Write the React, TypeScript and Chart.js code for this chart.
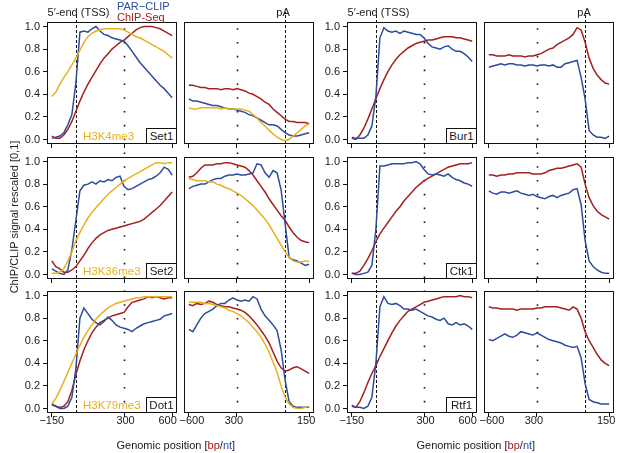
import React, { useEffect, useRef } from "react";
import { Chart, registerables } from "chart.js";

Chart.register(...registerables);

// ---------- data ----------
const TSS_X = [-150, -125, -100, -75, -50, -25, 0, 25, 50, 75, 100, 125, 150, 175, 200, 225, 250, 275, 300, 325, 350, 375, 400, 425, 450, 475, 500, 525, 550, 575, 600];
const PA_X = [-600, -575, -550, -525, -500, -475, -450, -425, -400, -375, -350, -325, -300, -275, -250, -225, -200, -175, -150, -125, -100, -75, -50, -25, 0, 25, 50, 75, 100, 125, 150];

const TSS_TICKS = [-150, 300, 600];
const TSS_TICK_LABELS = ["\u2212150", "300", "600"];
const PA_TICKS = [-600, -300, 150];
const PA_TICK_LABELS = ["\u2212600", "300", "150"];
// label nudges (in spaces) so neighbouring panels' labels do not collide, as in the original
const TSS_TICK_PAD = [0, 1, -3];
const PA_TICK_PAD = [2, -2, -2];
const Y_TICKS = [0, 0.2, 0.4, 0.6, 0.8, 1.0];
const Y_TICK_LABELS = ["0.0", "0.2", "0.4", "0.6", "0.8", "1.0"];

const FACTORS_LEFT = ["Set1", "Set2", "Dot1"];
const FACTORS_RIGHT = ["Bur1", "Ctk1", "Rtf1"];
const MARKS = ["H3K4me3", "H3K36me3", "H3K79me3"];

// Set1 / H3K4me3
const SET1_TSS_PAR = [0.01, 0.02, 0.03, 0.06, 0.13, 0.22, 0.50, 0.95, 0.96, 0.95, 0.98, 1.00, 0.96, 0.93, 0.92, 0.90, 0.89, 0.88, 0.87, 0.83, 0.78, 0.73, 0.68, 0.64, 0.60, 0.56, 0.52, 0.48, 0.45, 0.41, 0.37];
const SET1_TSS_CHIP = [0.03, 0.01, 0.01, 0.04, 0.09, 0.16, 0.25, 0.34, 0.42, 0.49, 0.55, 0.61, 0.67, 0.72, 0.76, 0.80, 0.83, 0.86, 0.88, 0.91, 0.94, 0.97, 0.99, 1.00, 1.00, 1.00, 0.99, 0.98, 0.96, 0.94, 0.92];
const SET1_TSS_MARK = [0.38, 0.42, 0.49, 0.55, 0.60, 0.66, 0.72, 0.79, 0.86, 0.91, 0.94, 0.96, 0.97, 0.98, 0.98, 0.98, 0.98, 0.98, 0.97, 0.95, 0.93, 0.91, 0.90, 0.88, 0.86, 0.84, 0.82, 0.80, 0.78, 0.75, 0.72];
const SET1_PA_PAR = [0.36, 0.34, 0.34, 0.33, 0.32, 0.31, 0.30, 0.30, 0.29, 0.28, 0.27, 0.27, 0.26, 0.25, 0.24, 0.22, 0.21, 0.19, 0.17, 0.15, 0.13, 0.13, 0.12, 0.09, 0.06, 0.04, 0.03, 0.03, 0.04, 0.05, 0.06];
const SET1_PA_CHIP = [0.48, 0.48, 0.47, 0.46, 0.46, 0.45, 0.45, 0.45, 0.44, 0.45, 0.45, 0.44, 0.45, 0.44, 0.43, 0.41, 0.40, 0.38, 0.36, 0.33, 0.31, 0.27, 0.24, 0.21, 0.18, 0.16, 0.16, 0.15, 0.15, 0.15, 0.14];
const SET1_PA_MARK = [0.28, 0.27, 0.27, 0.28, 0.28, 0.28, 0.28, 0.28, 0.27, 0.28, 0.27, 0.27, 0.27, 0.27, 0.26, 0.25, 0.22, 0.19, 0.15, 0.12, 0.08, 0.05, 0.02, 0.00, -0.01, 0.00, 0.03, 0.06, 0.09, 0.12, 0.14];

// Set2 / H3K36me3
const SET2_TSS_PAR = [0.05, 0.03, 0.01, 0.00, 0.04, 0.22, 0.48, 0.74, 0.79, 0.80, 0.82, 0.80, 0.83, 0.82, 0.84, 0.83, 0.86, 0.87, 0.78, 0.75, 0.76, 0.78, 0.80, 0.82, 0.84, 0.85, 0.87, 0.90, 0.95, 0.93, 0.88];
const SET2_TSS_CHIP = [0.12, 0.07, 0.05, 0.02, 0.02, 0.04, 0.07, 0.12, 0.17, 0.23, 0.28, 0.32, 0.35, 0.37, 0.39, 0.40, 0.41, 0.42, 0.43, 0.44, 0.45, 0.46, 0.47, 0.49, 0.52, 0.55, 0.58, 0.61, 0.65, 0.69, 0.73];
const SET2_TSS_MARK = [0.01, 0.01, 0.02, 0.05, 0.12, 0.20, 0.30, 0.37, 0.44, 0.50, 0.55, 0.59, 0.63, 0.67, 0.71, 0.74, 0.77, 0.80, 0.83, 0.85, 0.87, 0.89, 0.91, 0.93, 0.95, 0.97, 0.99, 0.99, 0.98, 0.99, 0.99];
const SET2_PA_PAR = [0.76, 0.78, 0.79, 0.80, 0.80, 0.82, 0.84, 0.85, 0.85, 0.87, 0.88, 0.88, 0.89, 0.88, 0.88, 0.89, 0.90, 0.98, 0.97, 0.90, 0.86, 0.92, 0.90, 0.75, 0.45, 0.15, 0.13, 0.12, 0.10, 0.08, 0.09];
const SET2_PA_CHIP = [0.86, 0.87, 0.90, 0.94, 0.97, 0.97, 0.97, 0.98, 0.98, 0.99, 0.99, 0.98, 0.97, 0.96, 0.95, 0.92, 0.88, 0.83, 0.78, 0.73, 0.67, 0.62, 0.57, 0.52, 0.48, 0.42, 0.37, 0.33, 0.30, 0.29, 0.28];
const SET2_PA_MARK = [0.85, 0.84, 0.83, 0.83, 0.83, 0.82, 0.82, 0.80, 0.79, 0.77, 0.76, 0.74, 0.72, 0.70, 0.67, 0.64, 0.61, 0.57, 0.53, 0.49, 0.44, 0.38, 0.32, 0.26, 0.20, 0.15, 0.12, 0.11, 0.11, 0.12, 0.12];

// Dot1 / H3K79me3
const DOT1_TSS_PAR = [0.03, 0.02, 0.00, 0.00, 0.02, 0.10, 0.35, 0.80, 0.89, 0.84, 0.79, 0.76, 0.74, 0.77, 0.81, 0.78, 0.74, 0.72, 0.71, 0.70, 0.68, 0.71, 0.73, 0.75, 0.76, 0.77, 0.78, 0.79, 0.82, 0.83, 0.84];
const DOT1_TSS_CHIP = [0.04, 0.02, 0.01, 0.02, 0.06, 0.16, 0.30, 0.42, 0.52, 0.60, 0.67, 0.72, 0.76, 0.78, 0.80, 0.82, 0.83, 0.84, 0.85, 0.90, 0.94, 0.95, 0.96, 0.97, 0.99, 0.98, 0.99, 0.98, 0.97, 0.98, 0.98];
const DOT1_TSS_MARK = [0.04, 0.09, 0.16, 0.24, 0.32, 0.40, 0.48, 0.56, 0.63, 0.69, 0.74, 0.79, 0.83, 0.86, 0.89, 0.91, 0.93, 0.94, 0.95, 0.96, 0.97, 0.98, 0.98, 0.99, 0.99, 0.99, 0.99, 0.99, 0.99, 0.99, 0.99];
const DOT1_PA_PAR = [0.70, 0.68, 0.74, 0.80, 0.84, 0.86, 0.88, 0.91, 0.93, 0.93, 0.96, 0.98, 0.96, 0.95, 0.96, 0.95, 0.99, 0.97, 0.88, 0.82, 0.78, 0.74, 0.69, 0.52, 0.25, 0.06, 0.02, 0.01, 0.01, 0.01, 0.01];
const DOT1_PA_CHIP = [0.92, 0.91, 0.93, 0.92, 0.93, 0.95, 0.94, 0.92, 0.91, 0.90, 0.90, 0.89, 0.88, 0.87, 0.85, 0.82, 0.78, 0.74, 0.69, 0.64, 0.58, 0.50, 0.42, 0.36, 0.33, 0.34, 0.36, 0.37, 0.35, 0.33, 0.31];
const DOT1_PA_MARK = [0.94, 0.94, 0.94, 0.94, 0.93, 0.93, 0.92, 0.91, 0.90, 0.89, 0.87, 0.86, 0.84, 0.82, 0.79, 0.76, 0.72, 0.68, 0.63, 0.57, 0.50, 0.41, 0.32, 0.20, 0.10, 0.04, 0.01, 0.00, 0.00, 0.01, 0.02];

// Bur1
const BUR1_TSS_PAR = [0.02, 0.01, 0.01, 0.01, 0.04, 0.12, 0.38, 0.90, 0.99, 0.96, 0.95, 0.96, 0.94, 0.96, 0.95, 0.94, 0.93, 0.93, 0.90, 0.85, 0.82, 0.81, 0.80, 0.82, 0.83, 0.80, 0.78, 0.78, 0.76, 0.73, 0.69];
const BUR1_TSS_CHIP = [0.01, 0.00, 0.04, 0.10, 0.18, 0.27, 0.36, 0.45, 0.53, 0.60, 0.66, 0.71, 0.75, 0.78, 0.81, 0.83, 0.85, 0.86, 0.87, 0.88, 0.88, 0.89, 0.90, 0.91, 0.91, 0.91, 0.90, 0.90, 0.89, 0.88, 0.87];
const BUR1_PA_PAR = [0.64, 0.65, 0.66, 0.67, 0.66, 0.67, 0.67, 0.66, 0.66, 0.65, 0.66, 0.66, 0.65, 0.66, 0.66, 0.65, 0.66, 0.64, 0.64, 0.67, 0.68, 0.69, 0.70, 0.55, 0.36, 0.08, 0.04, 0.02, 0.02, 0.01, 0.03];
const BUR1_PA_CHIP = [0.75, 0.75, 0.74, 0.74, 0.74, 0.75, 0.74, 0.74, 0.74, 0.73, 0.74, 0.74, 0.75, 0.76, 0.78, 0.80, 0.81, 0.84, 0.86, 0.88, 0.90, 0.93, 0.99, 0.97, 0.86, 0.72, 0.63, 0.57, 0.53, 0.50, 0.49];

// Ctk1
const CTK1_TSS_PAR = [0.01, 0.00, 0.00, 0.01, 0.02, 0.08, 0.40, 0.96, 0.96, 0.97, 0.98, 0.98, 0.98, 0.98, 0.99, 0.99, 1.00, 0.98, 0.93, 0.89, 0.88, 0.89, 0.88, 0.87, 0.89, 0.86, 0.84, 0.83, 0.81, 0.80, 0.78];
const CTK1_TSS_CHIP = [0.01, 0.01, 0.03, 0.08, 0.14, 0.21, 0.29, 0.36, 0.41, 0.46, 0.51, 0.56, 0.60, 0.65, 0.69, 0.73, 0.77, 0.80, 0.83, 0.85, 0.87, 0.89, 0.91, 0.93, 0.95, 0.96, 0.97, 0.98, 0.98, 0.98, 0.99];
const CTK1_PA_PAR = [0.74, 0.72, 0.71, 0.73, 0.73, 0.72, 0.73, 0.74, 0.72, 0.71, 0.70, 0.71, 0.69, 0.68, 0.67, 0.69, 0.70, 0.68, 0.70, 0.71, 0.72, 0.75, 0.76, 0.62, 0.30, 0.12, 0.07, 0.04, 0.02, 0.01, 0.01];
const CTK1_PA_CHIP = [0.88, 0.88, 0.87, 0.88, 0.88, 0.89, 0.89, 0.90, 0.90, 0.90, 0.90, 0.89, 0.89, 0.89, 0.90, 0.92, 0.93, 0.94, 0.94, 0.95, 0.96, 0.97, 0.98, 0.95, 0.80, 0.68, 0.61, 0.56, 0.53, 0.51, 0.49];

// Rtf1
const RTF1_TSS_PAR = [0.03, 0.01, 0.01, 0.00, 0.02, 0.10, 0.40, 0.90, 0.99, 0.93, 0.92, 0.93, 0.91, 0.88, 0.88, 0.87, 0.88, 0.86, 0.84, 0.82, 0.81, 0.79, 0.78, 0.80, 0.75, 0.74, 0.76, 0.74, 0.75, 0.73, 0.70];
const RTF1_TSS_CHIP = [0.02, 0.01, 0.06, 0.14, 0.23, 0.31, 0.38, 0.46, 0.53, 0.60, 0.67, 0.73, 0.78, 0.82, 0.86, 0.88, 0.90, 0.92, 0.94, 0.95, 0.96, 0.97, 0.98, 0.99, 0.99, 0.99, 0.99, 1.00, 0.99, 0.99, 0.98];
const RTF1_PA_PAR = [0.61, 0.60, 0.62, 0.64, 0.66, 0.64, 0.63, 0.65, 0.68, 0.67, 0.66, 0.65, 0.67, 0.65, 0.63, 0.61, 0.60, 0.59, 0.58, 0.56, 0.55, 0.54, 0.55, 0.45, 0.22, 0.08, 0.06, 0.05, 0.04, 0.04, 0.04];
const RTF1_PA_CHIP = [0.90, 0.89, 0.89, 0.88, 0.88, 0.88, 0.88, 0.87, 0.88, 0.88, 0.88, 0.88, 0.89, 0.89, 0.90, 0.90, 0.90, 0.90, 0.89, 0.88, 0.87, 0.90, 0.88, 0.80, 0.68, 0.60, 0.54, 0.48, 0.43, 0.40, 0.38];

// ---------- styling ----------
const BLUE = "#2c4c9c";
const RED = "#a3201d";
const ORANGE = "#e9b01e";
const INK = "#1a1a1a";
const FONT = '"Liberation Sans", Arial, Helvetica, sans-serif';

const P = 14; // canvas padding
const YW = 34; // y axis width
const XH = 18; // x axis height
const COL_LEFT = [47, 184, 347, 484];
const ROW_TOP = [22, 157, 291];
const BOX_W = 130;
const BOX_H = 122;

type Series = { values: number[]; color: string };
type PanelDef = { row: number; col: number; region: "tss" | "pa"; series: Series[] };

const LEFT_SETS = [
  { tss: [SET1_TSS_MARK, SET1_TSS_PAR, SET1_TSS_CHIP], pa: [SET1_PA_MARK, SET1_PA_PAR, SET1_PA_CHIP] },
  { tss: [SET2_TSS_MARK, SET2_TSS_PAR, SET2_TSS_CHIP], pa: [SET2_PA_MARK, SET2_PA_PAR, SET2_PA_CHIP] },
  { tss: [DOT1_TSS_MARK, DOT1_TSS_PAR, DOT1_TSS_CHIP], pa: [DOT1_PA_MARK, DOT1_PA_PAR, DOT1_PA_CHIP] },
];
const RIGHT_SETS = [
  { tss: [BUR1_TSS_PAR, BUR1_TSS_CHIP], pa: [BUR1_PA_PAR, BUR1_PA_CHIP] },
  { tss: [CTK1_TSS_PAR, CTK1_TSS_CHIP], pa: [CTK1_PA_PAR, CTK1_PA_CHIP] },
  { tss: [RTF1_TSS_PAR, RTF1_TSS_CHIP], pa: [RTF1_PA_PAR, RTF1_PA_CHIP] },
];

const PANELS: PanelDef[] = [];
for (let r = 0; r < 3; r++) {
  const L = LEFT_SETS[r];
  const R = RIGHT_SETS[r];
  PANELS.push({ row: r, col: 0, region: "tss", series: [{ values: L.tss[0], color: ORANGE }, { values: L.tss[1], color: BLUE }, { values: L.tss[2], color: RED }] });
  PANELS.push({ row: r, col: 1, region: "pa", series: [{ values: L.pa[0], color: ORANGE }, { values: L.pa[1], color: BLUE }, { values: L.pa[2], color: RED }] });
  PANELS.push({ row: r, col: 2, region: "tss", series: [{ values: R.tss[0], color: BLUE }, { values: R.tss[1], color: RED }] });
  PANELS.push({ row: r, col: 3, region: "pa", series: [{ values: R.pa[0], color: BLUE }, { values: R.pa[1], color: RED }] });
}

function padLabel(label: string, pad: number) {
  if (pad > 0) return " ".repeat(pad) + label;
  if (pad < 0) return label + " ".repeat(-pad);
  return label;
}

type RefLine = { value: number; dash: number[]; width: number; period: number; phase: number; extTop: number; extBottom: number };

function makeRefPlugin(lines: RefLine[], canvasTop: number) {
  return {
    id: "refLines",
    beforeDatasetsDraw(chart: any) {
      const { ctx, chartArea } = chart;
      const sx = chart.scales.x;
      lines.forEach((ln) => {
        const px = Math.round(sx.getPixelForValue(ln.value)) + 0.5;
        const y0 = chartArea.top - ln.extTop;
        const y1 = chartArea.bottom + ln.extBottom;
        const abs = canvasTop + y0;
        const off = (((abs - ln.phase) % ln.period) + ln.period) % ln.period;
        ctx.save();
        ctx.beginPath();
        ctx.strokeStyle = "#111";
        ctx.lineWidth = ln.width;
        ctx.setLineDash(ln.dash);
        ctx.lineDashOffset = off;
        ctx.moveTo(px, y0);
        ctx.lineTo(px, y1);
        ctx.stroke();
        ctx.restore();
      });
    },
  };
}

function makeFramePlugin() {
  return {
    id: "frameBox",
    afterDatasetsDraw(chart: any) {
      const { ctx, chartArea } = chart;
      ctx.save();
      ctx.strokeStyle = "#111";
      ctx.lineWidth = 1;
      ctx.setLineDash([]);
      ctx.strokeRect(
        Math.round(chartArea.left) + 0.5,
        Math.round(chartArea.top) + 0.5,
        Math.round(chartArea.right - chartArea.left) - 1,
        Math.round(chartArea.bottom - chartArea.top) - 1
      );
      ctx.restore();
    },
  };
}

function Panel({ def }: { def: PanelDef }) {
  const ref = useRef<HTMLCanvasElement | null>(null);
  const showY = def.col === 0 || def.col === 2;
  const showXLabels = def.row === 2;
  const isTss = def.region === "tss";
  const yw = showY ? YW : 0;
  const left = COL_LEFT[def.col] - P - yw;
  const top = ROW_TOP[def.row] - P;
  const width = yw + BOX_W + 2 * P;
  const height = BOX_H + XH + 2 * P;

  useEffect(() => {
    if (!ref.current) return;
    const xs = isTss ? TSS_X : PA_X;
    const ticks = isTss ? TSS_TICKS : PA_TICKS;
    const tickLabels = isTss ? TSS_TICK_LABELS : PA_TICK_LABELS;
    const tickPad = isTss ? TSS_TICK_PAD : PA_TICK_PAD;
    const lines: RefLine[] = [
      {
        value: 0,
        dash: [3, 2],
        width: 1,
        period: 5,
        phase: 0,
        extTop: def.row === 0 ? 10 : 7,
        extBottom: def.row === 2 ? 1 : 7,
      },
      {
        value: isTss ? 300 : -300,
        dash: [1.6, 12.2],
        width: 1.6,
        period: 13.8,
        phase: 28.2,
        extTop: def.row === 0 ? 0 : 7,
        extBottom: def.row === 2 ? 0 : 7,
      },
    ];
    const tickFont = { family: FONT, size: 11, lineHeight: 1 };
    const chart = new Chart(ref.current, {
      type: "line",
      data: {
        datasets: def.series.map((s) => ({
          data: xs.map((x, i) => ({ x, y: s.values[i] })),
          borderColor: s.color,
          backgroundColor: s.color,
          borderWidth: 1.5,
          pointRadius: 0,
          tension: 0,
          fill: false,
        })),
      },
      options: {
        animation: false,
        responsive: false,
        maintainAspectRatio: false,
        layout: { padding: P },
        plugins: { legend: { display: false }, tooltip: { enabled: false } },
        scales: {
          x: {
            type: "linear",
            min: isTss ? -180 : -630,
            max: isTss ? 630 : 180,
            afterBuildTicks: (s: any) => {
              s.ticks = ticks.map((v) => ({ value: v }));
            },
            afterFit: (s: any) => {
              s.height = XH;
            },
            ticks: {
              autoSkip: false,
              maxRotation: 0,
              minRotation: 0,
              padding: -2,
              color: INK,
              font: tickFont,
              callback: (v: any) => {
                if (!showXLabels) return "";
                const i = ticks.indexOf(Number(v));
                return i >= 0 ? padLabel(tickLabels[i], tickPad[i]) : "";
              },
            },
            grid: { display: true, drawOnChartArea: false, drawTicks: true, tickLength: 4, color: "#111", lineWidth: 1 },
            border: { display: false },
          },
          y: {
            display: showY,
            min: -0.04,
            max: 1.04,
            afterBuildTicks: (s: any) => {
              s.ticks = Y_TICKS.map((v) => ({ value: v }));
            },
            afterFit: (s: any) => {
              s.width = showY ? YW : 0;
            },
            ticks: {
              autoSkip: false,
              padding: 3,
              color: INK,
              font: tickFont,
              callback: (v: any) => {
                const i = Y_TICKS.findIndex((t) => Math.abs(t - Number(v)) < 1e-9);
                return i >= 0 ? Y_TICK_LABELS[i] : "";
              },
            },
            grid: { display: true, drawOnChartArea: false, drawTicks: true, tickLength: 4, color: "#111", lineWidth: 1 },
            border: { display: false },
          },
        },
      } as any,
      plugins: [makeRefPlugin(lines, top), makeFramePlugin()],
    } as any);
    return () => chart.destroy();
  }, []);

  return (
    <canvas
      ref={ref}
      width={width}
      height={height}
      style={{ position: "absolute", left, top, width, height }}
    />
  );
}

function Txt(props: { x: number; y: number; anchor?: "start" | "middle" | "end"; color?: string; size?: number; children: any }) {
  const a = props.anchor || "start";
  const tx = a === "middle" ? "-50%" : a === "end" ? "-100%" : "0";
  return (
    <div
      style={{
        position: "absolute",
        left: props.x,
        top: props.y,
        transform: `translate(${tx}, -50%)`,
        whiteSpace: "nowrap",
        lineHeight: 1,
        fontSize: props.size || 11,
        color: props.color || INK,
        fontFamily: FONT,
      }}
    >
      {props.children}
    </div>
  );
}

function FactorBox({ right, bottom, label }: { right: number; bottom: number; label: string }) {
  return (
    <div
      style={{
        position: "absolute",
        left: right - 31,
        top: bottom - 16,
        width: 31,
        height: 16,
        boxSizing: "border-box",
        border: "1px solid #111",
        background: "#fff",
        fontFamily: FONT,
        fontSize: 11.5,
        lineHeight: "14px",
        textAlign: "center",
        color: INK,
      }}
    >
      {label}
    </div>
  );
}

export default function App() {
  return (
    <div
      style={{
        position: "absolute",
        left: 0,
        top: 0,
        width: 617,
        height: 453,
        background: "#fff",
        overflow: "hidden",
        fontFamily: FONT,
      }}
    >
      {PANELS.map((p) => (
        <Panel key={`${p.row}-${p.col}`} def={p} />
      ))}

      <Txt x={47.5} y={12}>5{"\u2032"}-end (TSS)</Txt>
      <Txt x={283} y={12} anchor="middle">pA</Txt>
      <Txt x={347.5} y={12}>5{"\u2032"}-end (TSS)</Txt>
      <Txt x={584} y={12} anchor="middle">pA</Txt>
      <Txt x={117} y={6} color={BLUE}>PAR{"\u2212"}CLIP</Txt>
      <Txt x={117} y={16.5} color={RED}>ChIP-Seq</Txt>

      {MARKS.map((m, r) => (
        <Txt key={m} x={83} y={ROW_TOP[r] + BOX_H - 7} color={ORANGE} size={11.5}>
          {m}
        </Txt>
      ))}
      {FACTORS_LEFT.map((f, r) => (
        <FactorBox key={f} right={COL_LEFT[0] + BOX_W} bottom={ROW_TOP[r] + BOX_H} label={f} />
      ))}
      {FACTORS_RIGHT.map((f, r) => (
        <FactorBox key={f} right={COL_LEFT[2] + BOX_W} bottom={ROW_TOP[r] + BOX_H} label={f} />
      ))}

      <div
        style={{
          position: "absolute",
          left: 14 - 100,
          top: 217 - 6,
          width: 200,
          height: 12,
          transform: "rotate(-90deg)",
          transformOrigin: "100px 6px",
          textAlign: "center",
          whiteSpace: "nowrap",
          lineHeight: "12px",
          fontSize: 11,
          color: INK,
          fontFamily: FONT,
        }}
      >
        ChIP/CLIP signal rescaled [0,1]
      </div>

      {[175.8, 475.8].map((cx) => (
        <Txt key={cx} x={cx} y={445} anchor="middle">
          Genomic position [<span style={{ color: RED }}>bp</span>/<span style={{ color: BLUE }}>nt</span>]
        </Txt>
      ))}
    </div>
  );
}
